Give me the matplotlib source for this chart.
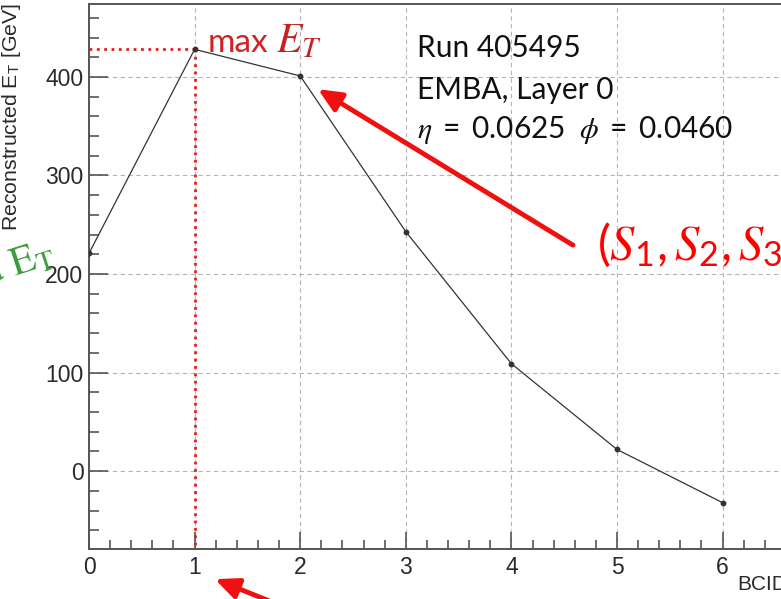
import matplotlib
matplotlib.use("Agg")
import matplotlib.pyplot as plt
from matplotlib.ticker import MultipleLocator

plt.rcParams["font.family"] = ["Liberation Sans", "DejaVu Sans"]
plt.rcParams["mathtext.fontset"] = "custom"
plt.rcParams["mathtext.rm"] = "Lato"
plt.rcParams["mathtext.it"] = "STIXGeneral:italic"
plt.rcParams["mathtext.cal"] = "STIXGeneral"
plt.rcParams["mathtext.sf"] = "Liberation Sans"

# Reconstructed transverse energy per bunch crossing
bcid = [0, 1, 2, 3, 4, 5, 6]
et = [221, 428, 401, 243, 109, 22, -32]
peak = 1  # index of the maximum sample

run_lines = ["Run 405495", "EMBA, Layer 0",
             r"$\eta\ =\ 0.0625\ \ \phi\ =\ 0.0460$"]

W, H = 781, 599
fig = plt.figure(figsize=(W / 100, H / 100), dpi=100)
fig.patch.set_facecolor("white")


def fpx(x, y):
    """Figure fraction from pixel position measured from the top-left."""
    return x / W, 1 - y / H


XMAX = 6.65
YMIN, YMAX = -79, 474
ax = fig.add_axes([89 / W, 50 / H, XMAX * 105.6 / W, 545 / H])
ax.set_xlim(0, XMAX)
ax.set_ylim(YMIN, YMAX)

ax.set_axisbelow(True)
ax.grid(True, which="major", color="#b4b4b4", ls=(0, (4, 3)), lw=0.8)

ax.xaxis.set_major_locator(MultipleLocator(1))
ax.xaxis.set_minor_locator(MultipleLocator(0.2))
ax.yaxis.set_major_locator(MultipleLocator(100))
ax.yaxis.set_minor_locator(MultipleLocator(20))
ax.tick_params(which="both", direction="in", color="#555555",
               labelcolor="#2a2a2a", labelsize=16.5, width=1.2)
ax.tick_params(axis="y", which="major", length=14, pad=4.0)
ax.tick_params(axis="y", which="minor", length=7.5)
ax.tick_params(axis="x", which="major", length=12.5, pad=5.0)
ax.tick_params(axis="x", which="minor", length=6.5)
for s in ax.spines.values():
    s.set_color("#555555")
    s.set_linewidth(1.4)

# peak markers
ax.plot([0, bcid[peak]], [et[peak], et[peak]], ls=":", color="#e02020",
        lw=2, zorder=2)
ax.plot([bcid[peak], bcid[peak]], [et[peak], YMIN], ls=":", color="#e02020",
        lw=2, zorder=2, clip_on=False)

ax.plot(bcid, et, color="#333333", lw=0.9, marker="o", ms=3.2, zorder=3)

fig.text(*fpx(12, 3), r"Reconstructed E$_{\mathsf{T}}$ [GeV]", rotation=90,
         ha="center", va="top", fontsize=15.3, color="#2a2a2a")
fig.text(*fpx(737, 585), "BCID", ha="left", va="center", fontsize=15,
         color="#2a2a2a")

for line, yb in zip(run_lines, [57, 99, 138]):
    fig.text(*fpx(417, yb), line, family="Lato", fontsize=21.5,
             va="baseline", color="#111111")

fig.text(*fpx(208, 52), "max", family="Lato", fontsize=24,
         va="baseline", color="#d42222")
fig.text(*fpx(276, 52), r"$E_T$", fontsize=30,
         va="baseline", color="#c82020")

fig.text(*fpx(597, 260), r"$(S_1, S_2, S_3, S_4)$", fontsize=35,
         va="baseline", color="#ff0000")

fig.text(*fpx(56, 262), r"Integrated $\mathcal{E}_{\mathcal{T}}$",
         family="STIXGeneral", fontsize=29, color="#3a9a3a", rotation=18,
         rotation_mode="anchor", ha="right", va="baseline")

arrow = dict(arrowstyle="-|>,head_length=1.0,head_width=0.45",
             color="#f01010", lw=3.5, shrinkA=0, shrinkB=0,
             mutation_scale=14)
ax.annotate("", xy=(2.168, 387.6), xytext=(4.583, 229.3),
            arrowprops=arrow, annotation_clip=False)
ax.annotate("", xy=(1.193, -109.6), xytext=(1.90, -140),
            arrowprops=arrow, annotation_clip=False)

fig.savefig("out.png", dpi=100)
